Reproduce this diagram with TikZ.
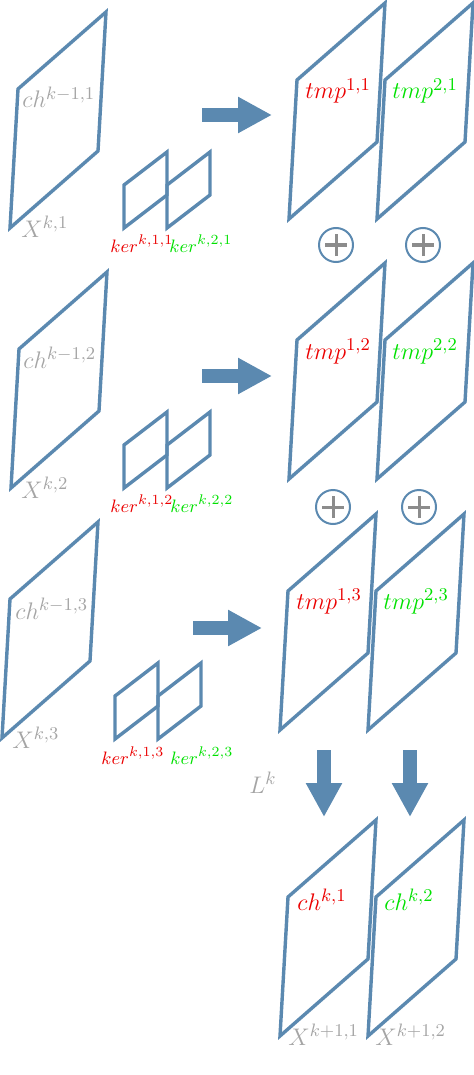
\documentclass[tikz,border=0pt]{standalone}
\usepackage{tikz}
\usetikzlibrary{arrows.meta, positioning}
\usepackage{amsfonts,amssymb,amsbsy, amsmath}
\definecolor{planeblue}{RGB}{91,137,176}
\definecolor{labelgray}{RGB}{165,165,165}
\definecolor{plusgray}{RGB}{140,140,140}
\definecolor{kred}{RGB}{235,0,0}
\definecolor{kgreen}{RGB}{0,225,0}

\begin{document}
\begin{tikzpicture}[
        x=0.5pt, y=-0.5pt,
        >=stealth,
        every node/.style={font=\fontsize{12.3}{14}\selectfont, inner sep=0pt, anchor=base west},
        plane/.style={draw=planeblue, line width=1.7pt},
        gray label/.style={text=labelgray},
        red label/.style={text=kred},
        green label/.style={text=kgreen},
        ker label/.style={font=\fontsize{9.5}{11}\selectfont},
        bigarrow/.style={draw=planeblue, line width=7pt, -{Triangle[length=17pt, width=17pt]}},
        plus/.style={circle, anchor=center, draw=planeblue, line width=1pt, minimum size=17pt,
            path picture={\draw[plusgray, line width=1.5pt]
                (path picture bounding box.center) +(-5.5pt,0pt) -- +(5.5pt,0pt)
                (path picture bounding box.center) +(0pt,-5.5pt) -- +(0pt,5.5pt);}}
    ]
    \useasboundingbox (0,0) rectangle (474,1075);
    % input channels
    \draw[plane] (10,228) -- ++(8,-139) -- ++(88,-77) -- ++(-8,139) -- cycle;
    \draw[plane] (11,488) -- ++(8,-139) -- ++(88,-77) -- ++(-8,139) -- cycle;
    \draw[plane] (2,738) -- ++(8,-139) -- ++(88,-77) -- ++(-8,139) -- cycle;
    % kernels
    \draw[plane] (124,228) -- ++(0,-43) -- ++(43,-33) -- ++(0,43) -- cycle;
    \draw[plane] (167,228) -- ++(0,-43) -- ++(43,-33) -- ++(0,43) -- cycle;
    \draw[plane] (124,488) -- ++(0,-43) -- ++(43,-33) -- ++(0,43) -- cycle;
    \draw[plane] (167,488) -- ++(0,-43) -- ++(43,-33) -- ++(0,43) -- cycle;
    \draw[plane] (115,739) -- ++(0,-43) -- ++(43,-33) -- ++(0,43) -- cycle;
    \draw[plane] (158,739) -- ++(0,-43) -- ++(43,-33) -- ++(0,43) -- cycle;
    % partial results
    \draw[plane] (289,219) -- ++(8,-139) -- ++(88,-77) -- ++(-8,139) -- cycle;
    \draw[plane] (377,219) -- ++(8,-139) -- ++(88,-77) -- ++(-8,139) -- cycle;
    \draw[plane] (289,479) -- ++(8,-139) -- ++(88,-77) -- ++(-8,139) -- cycle;
    \draw[plane] (377,479) -- ++(8,-139) -- ++(88,-77) -- ++(-8,139) -- cycle;
    \draw[plane] (280,730) -- ++(8,-139) -- ++(88,-77) -- ++(-8,139) -- cycle;
    \draw[plane] (368,730) -- ++(8,-139) -- ++(88,-77) -- ++(-8,139) -- cycle;
    % output channels
    \draw[plane] (280,1036) -- ++(8,-139) -- ++(88,-77) -- ++(-8,139) -- cycle;
    \draw[plane] (368,1036) -- ++(8,-139) -- ++(88,-77) -- ++(-8,139) -- cycle;

    \node[gray label] (ch1) at (22,108) {$ch^{k-1,1}$};
    \node[gray label] (X1) at (21,237) {$X^{k,1}$};
    \node[red label, ker label] (ker11) at (110,252) {$ker^{k,1,1}$};
    \node[green label, ker label] (ker21) at (169,252) {$ker^{k,2,1}$};
    \node[red label] (tmp11) at (305,99) {$tmp^{1,1}$};
    \node[green label] (tmp21) at (392,99) {$tmp^{2,1}$};

    \node[gray label] (ch2) at (23,368) {$ch^{k-1,2}$};
    \node[gray label] (X2) at (21,498) {$X^{k,2}$};
    \node[red label, ker label] (ker12) at (110,512) {$ker^{k,1,2}$};
    \node[green label, ker label] (ker22) at (170,512) {$ker^{k,2,2}$};
    \node[red label] (tmp12) at (305,359) {$tmp^{1,2}$};
    \node[green label] (tmp22) at (392,359) {$tmp^{2,2}$};

    \node[gray label] (ch3) at (15,619) {$ch^{k-1,3}$};
    \node[gray label] (X3) at (12,748) {$X^{k,3}$};
    \node[red label, ker label] (ker13) at (101,764) {$ker^{k,1,3}$};
    \node[green label, ker label] (ker23) at (170,764) {$ker^{k,2,3}$};
    \node[red label] (tmp13) at (296,609) {$tmp^{1,3}$};
    \node[green label] (tmp23) at (383,609) {$tmp^{2,3}$};
    \node[gray label] (Lk) at (249,793) {$L^k$};

    \node[red label] (chk1) at (297,910) {$ch^{k,1}$};
    \node[green label] (chk2) at (384,910) {$ch^{k,2}$};
    \node[gray label] (Xk1) at (288,1045) {$X^{k+1,1}$};
    \node[gray label] (Xk2) at (375,1045) {$X^{k+1,2}$};

    \node[plus] (p11) at (336,245) {};
    \node[plus] (p21) at (423,245) {};
    \node[plus] (p12) at (333,507) {};
    \node[plus] (p22) at (419,507) {};

    \coordinate (a1s) at (202,115);
    \coordinate (a1e) at (272,115);
    \coordinate (a2s) at (202,376);
    \coordinate (a2e) at (272,376);
    \coordinate (a3s) at (193,628);
    \coordinate (a3e) at (262,628);
    \coordinate (d1s) at (324,750);
    \coordinate (d1e) at (324,817);
    \coordinate (d2s) at (410,750);
    \coordinate (d2e) at (410,817);
    \draw[bigarrow] (a1s) -- (a1e);
    \draw[bigarrow] (a2s) -- (a2e);
    \draw[bigarrow] (a3s) -- (a3e);
    \draw[bigarrow] (d1s) -- (d1e);
    \draw[bigarrow] (d2s) -- (d2e);
\end{tikzpicture}
\end{document}
